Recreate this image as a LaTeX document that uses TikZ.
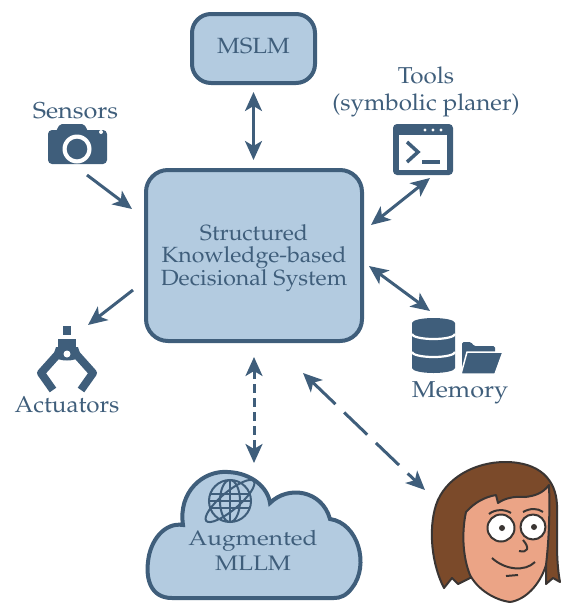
\documentclass[tikz,border=0pt]{standalone}
\usepackage[T1]{fontenc}
\usepackage{mathpazo}
\usetikzlibrary{arrows.meta}

\definecolor{ink}{HTML}{3F5E7B}
\definecolor{boxfill}{HTML}{B3CBE0}
\definecolor{hair}{HTML}{7B4A2A}
\definecolor{skin}{HTML}{EBA486}
\definecolor{outline}{HTML}{3A3533}

% horizontally widened, centred block of lines
\newcommand{\widetext}[2]{\scalebox{#1}[1]{\begin{tabular}{@{}c@{}}#2\end{tabular}}}

\tikzset{
  box/.style={draw=ink, fill=boxfill, line width=4pt, text=ink, align=center},
  shell/.style={draw=ink, fill=boxfill, line width=4pt},
  lbl/.style={text=ink, font=\fontsize{23}{27}\selectfont, align=center, inner sep=0pt},
  link/.style={draw=ink, line width=3pt, -{Stealth[length=19pt,width=17pt,inset=5pt]}},
  twoway/.style={draw=ink, line width=3pt, {Stealth[length=19pt,width=17pt,inset=5pt]}-{Stealth[length=19pt,width=17pt,inset=5pt]}},
  shortdash/.style={twoway, dash pattern=on 9pt off 5pt},
  longdash/.style={twoway, dash pattern=on 32pt off 12pt},
  face/.style={draw=outline, line width=2pt, line join=round},
}

\begin{document}
\begin{tikzpicture}[x=1pt,y=-1pt]
\useasboundingbox (0,0) rectangle (561,603);

% central decision system and the small language model
\node[box, rounded corners=22pt, minimum width=216pt, minimum height=171pt,
      font=\fontsize{22}{22}\selectfont] (core) at (254,255.5)
      {\raisebox{-2.5pt}[\height][\depth]{\widetext{1.05}{Structured\\Knowledge-based\\Decisional System}}};
\node[box, rounded corners=19pt, minimum width=123pt, minimum height=69pt,
      font=\fontsize{22}{26}\selectfont] (mslm) at (253.5,48.5) {\widetext{1.09}{MSLM}};

% camera
\fill[ink, rounded corners=4pt] (48,130) rectangle (107,164);
\fill[ink, rounded corners=2pt] (56,131) -- (60,124) -- (84,124) -- (88,131) -- cycle;
\fill[white] (77,149) circle[radius=14.5];
\fill[ink] (77,149) circle[radius=10.3];
\fill[white] (101,132) circle[radius=2];
\node[lbl, anchor=base] (senslbl) at (75.5,118) {\scalebox{1.1}[1]{Sensors}};

% terminal window
\fill[ink, rounded corners=4pt] (393,124) rectangle (453,175);
\fill[white] (399,135) rectangle (447,170);
\fill[white] (425,130) circle[radius=1.7] (433,130) circle[radius=1.7] (441,130) circle[radius=1.7];
\draw[ink, line width=3.5pt, line join=miter] (407,142) -- (418,152) -- (407,162);
\draw[ink, line width=3.5pt] (422,162) -- (440,162);
\node[lbl] (toolslbl) at (426,92) {\widetext{1.05}{Tools\\(symbolic planer)}};

% database and folder
\fill[ink] (412,323) -- (412,368) arc[start angle=180, end angle=0, x radius=21.5, y radius=5]
  -- (455,323) arc[start angle=0, end angle=-180, x radius=21.5, y radius=5] -- cycle;
\draw[white, line width=2.2pt] (412,334) arc[start angle=180, end angle=0, x radius=21.5, y radius=5];
\draw[white, line width=2.2pt] (412,352) arc[start angle=180, end angle=0, x radius=21.5, y radius=5];
\fill[ink, rounded corners=1.5pt] (462,373) -- (462,342) -- (471,342) -- (474,346) -- (495,346) -- (495,373) -- cycle;
\filldraw[fill=ink, draw=white, line width=1.5pt, line join=round] (467,352) -- (503,352) -- (495,374) -- (461,374) -- cycle;
\node[lbl, anchor=base] (memlbl) at (460,397) {\scalebox{1.1}[1]{Memory}};

% gripper
\fill[ink] (63,326) rectangle (71,335);
\fill[ink] (58,339) rectangle (76,350);
\fill[ink] (56,347) -- (78,347) -- (81,356) .. controls (76,362) and (58,362) .. (53,356) -- cycle;
\draw[ink, line width=8pt, line join=round] (58,354) -- (41,373) -- (53,390);
\draw[ink, line width=8pt, line join=round] (76,354) -- (93,373) -- (81,390);
\fill[white] (67,354) circle[radius=3.5];
\node[lbl, anchor=base] (actlbl) at (67,412) {\scalebox{1.05}[1]{Actuators}};

% cloud with globe
\draw[shell] (172,598) .. controls (150,598) and (146,578) .. (148,562)
  .. controls (150,540) and (165,522) .. (183,525)
  .. controls (178,492) and (203,470) .. (228,472)
  .. controls (252,473) and (268,488) .. (270,503)
  .. controls (288,485) and (322,490) .. (330,519)
  .. controls (358,523) and (370,565) .. (352,588)
  .. controls (346,596) and (340,598) .. (334,598) -- cycle;
\begin{scope}[ink, line width=2pt]
  \draw (230,501) circle[radius=21];
  \draw (230,501) ellipse[x radius=10, y radius=21];
  \draw (230,480) -- (230,522);
  \draw (211,494) -- (249,494);
  \draw (209,501) -- (251,501);
  \draw (211,508) -- (249,508);
  \draw[rotate around={40:(230,501)}] (230,501) ellipse[x radius=31, y radius=9];
\end{scope}
\node[text=ink, font=\fontsize{21}{25}\selectfont] (mllm) at (253,553)
      {\widetext{1.16}{Augmented\\MLLM}};
\coordinate (cloudtop) at (254,471);

% user face
\draw[face, fill=hair] (470,578) -- (458,584) -- (452,578) -- (444,588)
  .. controls (432,565) and (428,530) .. (436,505)
  .. controls (445,478) and (475,462) .. (505,462)
  .. controls (540,462) and (556,480) .. (557,505)
  .. controls (558,530) and (555,555) .. (560,582)
  -- (553,578) -- (546,584) -- (546,565) -- cycle;
\draw[face, fill=skin] (466,512) .. controls (475,502) and (485,497) .. (496,495)
  -- (498,503) .. controls (505,498) and (515,496) .. (525,497)
  .. controls (535,496) and (543,493) .. (549,485)
  .. controls (550,510) and (549,540) .. (546,565)
  .. controls (540,585) and (525,600) .. (510,602)
  .. controls (495,600) and (478,590) .. (470,575)
  .. controls (462,555) and (462,530) .. (466,512) -- cycle;
\draw[face, fill=white] (501,528) circle[radius=13.5];
\draw[face, fill=white] (533,527) circle[radius=12.5];
\fill[outline] (502,528) circle[radius=3] (534,527) circle[radius=3];
\draw[face] (489,514) .. controls (495,509) and (505,509) .. (511,513);
\draw[face] (523,512) .. controls (530,508) and (538,508) .. (543,512);
\draw[face] (523,540) .. controls (530,548) and (528,553) .. (519,551);
\draw[face] (492,558) .. controls (505,570) and (525,572) .. (535,562);
\draw[face] (506,576) -- (518,575);

% connector end points
\coordinate (sensA) at (87,175);
\coordinate (sensB) at (132,209);
\coordinate (actA) at (133,290);
\coordinate (actB) at (88,325);
\coordinate (toolA) at (371,225);
\coordinate (toolB) at (430,178);
\coordinate (memA) at (369,266);
\coordinate (memB) at (430,311);
\coordinate (userA) at (303,373);
\coordinate (userB) at (425,490);

% connectors
\draw[twoway, shorten <=7pt, shorten >=8pt] (mslm.south) -- (mslm.south |- core.north);
\draw[link] (sensA) -- (sensB);
\draw[link] (actA) -- (actB);
\draw[twoway] (toolA) -- (toolB);
\draw[twoway] (memA) -- (memB);
\draw[shortdash, shorten <=14pt, shorten >=8pt] (core.south) -- (core.south |- cloudtop);
\draw[longdash] (userA) -- (userB);
\end{tikzpicture}
\end{document}
